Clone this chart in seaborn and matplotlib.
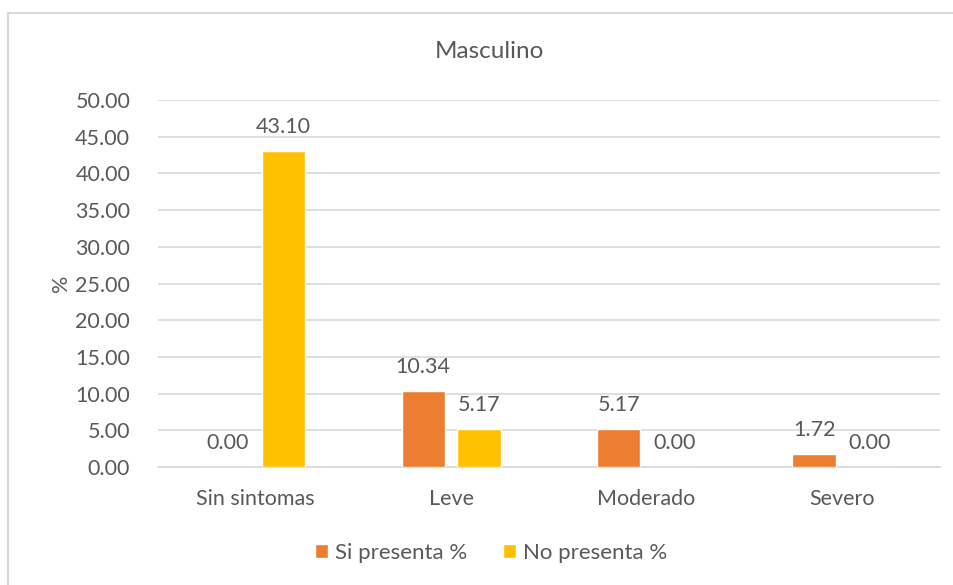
import pandas as pd
import seaborn as sns
import matplotlib.pyplot as plt
from matplotlib.patches import Rectangle

categories = ['Sin sintomas', 'Leve', 'Moderado', 'Severo']
si_presenta = [0.00, 10.34, 5.17, 1.72]
no_presenta = [43.10, 5.17, 0.00, 0.00]
series_names = ['Si presenta %', 'No presenta %']
y_ticks = [0, 5, 10, 15, 20, 25, 30, 35, 40, 45, 50]

df = pd.DataFrame({
    'categoria': categories * 2,
    'serie': [series_names[0]] * 4 + [series_names[1]] * 4,
    'valor': si_presenta + no_presenta,
})

sns.set_style('white')
plt.rcParams['font.family'] = ['Lato', 'DejaVu Sans']
text_color = '#595959'

fig = plt.figure(figsize=(9.54, 5.85), dpi=100)
ax = fig.add_axes([0.1656, 0.2017, 0.8194, 0.6273])

ax = sns.barplot(data=df, x='categoria', y='valor', hue='serie',
                 palette=['#ED7D31', '#FFC000'], saturation=1,
                 width=0.57, gap=0.22, ax=ax, legend=True, zorder=3)

for cont in ax.containers:
    ax.bar_label(cont, fmt='%.2f', padding=10, fontsize=15.5, color=text_color)

ax.set_ylim(0, 50)
ax.set_yticks(y_ticks)
ax.set_yticklabels([f'{v:.2f}' for v in y_ticks])
ax.set_xlim(-0.5, 3.5)
ax.grid(axis='y', color='#D9D9D9', linewidth=1.2, zorder=0)
for s in ['top', 'right', 'left']:
    ax.spines[s].set_visible(False)
ax.spines['bottom'].set_color('#D9D9D9')
ax.spines['bottom'].set_linewidth(1.2)
ax.tick_params(axis='both', length=0, labelsize=15.5, colors=text_color)
ax.tick_params(axis='y', pad=20)
ax.tick_params(axis='x', pad=16)
ax.set_xlabel('')
ax.set_ylabel('%', fontsize=15.5, color=text_color, labelpad=3)

fig.text(489 / 954, 1 - 52 / 585, 'Masculino', ha='center', va='center',
         fontsize=17.5, color=text_color)

handles, labels = ax.get_legend_handles_labels()
ax.legend(handles, labels, loc='center', bbox_to_anchor=(0.426, -0.235),
          ncol=2, frameon=False, fontsize=16, handlelength=0.6, handleheight=0.6,
          handletextpad=0.3, columnspacing=1.6, labelcolor=text_color)

fig.patches.append(Rectangle((8 / 954, -0.1), 1.2, 1 - 13 / 585 + 0.1,
                             transform=fig.transFigure, fill=False,
                             edgecolor='#D9D9D9', linewidth=1.5))

fig.savefig('out.png', dpi=100)
